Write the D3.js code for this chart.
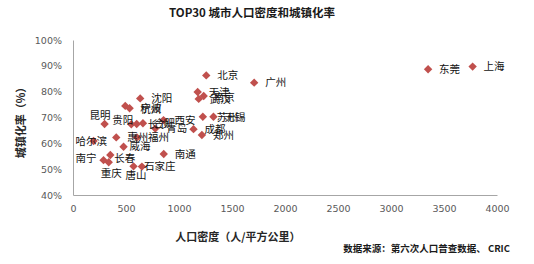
<!DOCTYPE html>
<html>
<head>
<meta charset="utf-8">
<script src="https://cdnjs.cloudflare.com/ajax/libs/d3/7.8.5/d3.min.js"></script>
<style>
  body { margin: 0; background: #fff; }
  text { font-family: "Noto Sans CJK SC", "DejaVu Sans", sans-serif; }
</style>
</head>
<body>
<script>
// city names, population density (people / km2), urbanisation rate (%)
var cities  = ["上海","东莞","北京","广州","天津","南京","武汉","沈阳","杭州","宁波",
               "昆明","贵阳","长沙","合肥","西安","青岛","苏州","无锡","成都","郑州",
               "哈尔滨","惠州","福州","威海","南通","南宁","长春","重庆","唐山","石家庄"];
var density = [3770,3350,1257,1709,1176,1233,1186,634,493,534,
               298,550,601,660,854,776,1225,1325,1137,1216,
               194,408,603,477,856,288,352,337,571,650];
var urbanRate = [89.7,88.7,86.3,83.5,79.9,78.3,77.2,77.4,74.5,73.6,
                 67.5,67.4,67.5,67.8,69.0,65.7,70.3,70.3,65.5,63.2,
                 60.9,62.3,62.3,58.7,55.9,53.5,55.5,52.7,51.1,51.0];

var xTicks = [0,500,1000,1500,2000,2500,3000,3500,4000];
var yTicks = [40,50,60,70,80,90,100];

// label placement (offset from marker), like the hand-moved Excel labels
var labelPos = {
  "昆明": [-15,-9], "贵阳": [-19,-4], "哈尔滨": [-18,0], "南宁": [-28,-2],
  "长春": [4,3], "重庆": [-8,11], "唐山": [-8,9], "石家庄": [2,0],
  "威海": [6,0], "杭州": [15,3], "南京": [10,1], "苏州": [14,0]
};

var W = 534, H = 264;
var margin = {left: 73, right: 37, top: 40, bottom: 69};

var svg = d3.select("body").append("svg")
    .attr("width", W)
    .attr("height", H);

var xScale = d3.scaleLinear().domain([0,4000]).range([margin.left, W - margin.right]);
var yScale = d3.scaleLinear().domain([40,100]).range([H - margin.bottom, margin.top]);

//Axes
var xAxis = d3.axisBottom(xScale).tickValues(xTicks).tickSize(0).tickPadding(10)
    .tickFormat(d3.format("d"));
var yAxis = d3.axisLeft(yScale).tickValues(yTicks).tickSize(0).tickPadding(11)
    .tickFormat(function(d) { return d + "%"; });

var gx = svg.append("g")
    .attr("transform", "translate(0," + (H - margin.bottom) + ")")
    .call(xAxis);
var gy = svg.append("g")
    .attr("transform", "translate(" + margin.left + ",0)")
    .call(yAxis);

svg.selectAll(".domain").attr("stroke", "#a6a6a6").attr("stroke-width", 1);
svg.selectAll(".tick text")
    .attr("fill", "#595959")
    .style("font-family", "'DejaVu Sans', sans-serif")
    .attr("font-size", "9.5px");

//Title
svg.append("text")
    .attr("x", 252)
    .attr("y", 17)
    .style("text-anchor", "middle")
    .attr("font-size", "11.5px")
    .attr("font-weight", "bold")
    .attr("fill", "#1a1a1a")
    .text("TOP30 城市人口密度和城镇化率");

//Y label
svg.append("text")
    .attr("transform", "translate(25,120) rotate(-90)")
    .style("text-anchor", "middle")
    .attr("font-size", "11px")
    .attr("font-weight", "bold")
    .attr("fill", "#262626")
    .text("城镇化率（%）");

//X label
svg.append("text")
    .attr("x", 238)
    .attr("y", 241)
    .style("text-anchor", "middle")
    .attr("font-size", "11px")
    .attr("font-weight", "bold")
    .attr("fill", "#262626")
    .text("人口密度（人/平方公里）");

//Source
svg.append("text")
    .attr("x", 510)
    .attr("y", 252)
    .style("text-anchor", "end")
    .attr("font-size", "9.5px")
    .attr("font-weight", "bold")
    .attr("fill", "#1a1a1a")
    .text("数据来源：第六次人口普查数据、 CRIC");

var data = cities.map(function(c, i) {
    return {name: c, x: density[i], y: urbanRate[i]};
});

//Markers
svg.selectAll(".dot")
    .data(data)
    .enter()
    .append("path")
    .attr("class", "dot")
    .attr("d", "M0,-4.2L4.2,0L0,4.2L-4.2,0Z")
    .attr("transform", function(d) { return "translate(" + xScale(d.x) + "," + yScale(d.y) + ")"; })
    .attr("fill", "#c0504d");

//Labels
svg.selectAll(".lbl")
    .data(data)
    .enter()
    .append("text")
    .attr("class", "lbl")
    .attr("x", function(d) {
        var o = labelPos[d.name] || [11, 0];
        return xScale(d.x) + o[0];
    })
    .attr("y", function(d) {
        var o = labelPos[d.name] || [11, 0];
        return yScale(d.y) + o[1];
    })
    .attr("dy", "0.36em")
    .attr("font-size", "10.5px")
    .attr("fill", "#111")
    .text(function(d) { return d.name; });
</script>
</body>
</html>
